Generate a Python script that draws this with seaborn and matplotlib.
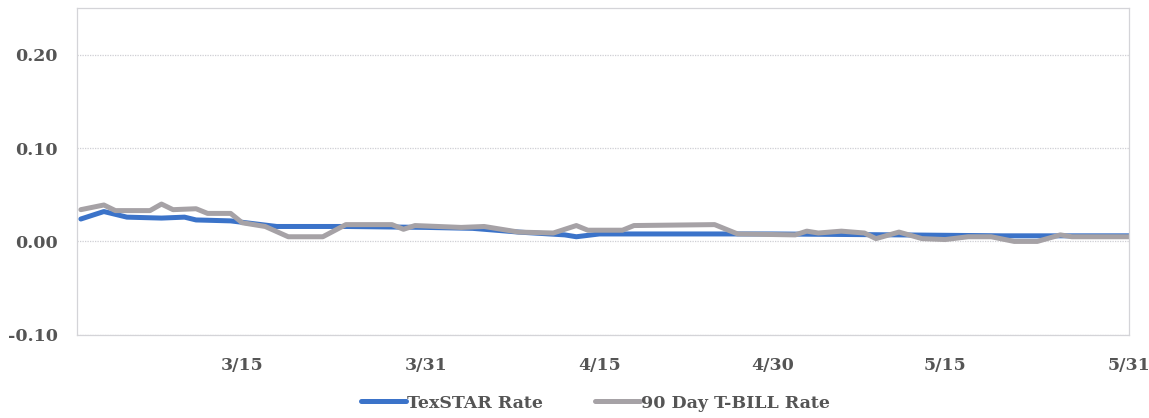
import pandas as pd
import matplotlib.pyplot as plt
import seaborn as sns

# --- data (daily rate, %) ---
texstar_dates = ["3/1", "3/3", "3/5", "3/8", "3/10", "3/11", "3/14", "3/16", "3/18", "3/24",
                 "3/31", "4/4", "4/8", "4/12", "4/13", "4/15", "4/30", "5/11", "5/20", "5/31"]
texstar_rate = [0.024, 0.032, 0.026, 0.025, 0.026, 0.023, 0.022, 0.019, 0.016, 0.016,
                0.015, 0.014, 0.010, 0.007, 0.005, 0.008, 0.008, 0.007, 0.006, 0.006]

tbill_dates = ["3/1", "3/3", "3/4", "3/7", "3/8", "3/9", "3/11", "3/12", "3/14", "3/15",
               "3/17", "3/19", "3/22", "3/24", "3/28", "3/29", "3/30", "4/3", "4/5", "4/8",
               "4/11", "4/13", "4/14", "4/17", "4/18", "4/25", "4/27", "5/2", "5/3", "5/4",
               "5/6", "5/8", "5/9", "5/11", "5/13", "5/15", "5/17", "5/19", "5/21", "5/23",
               "5/25", "5/26", "5/31"]
tbill_rate = [0.034, 0.039, 0.033, 0.033, 0.040, 0.034, 0.035, 0.030, 0.030, 0.020,
              0.016, 0.005, 0.005, 0.018, 0.018, 0.013, 0.017, 0.015, 0.016, 0.010,
              0.009, 0.017, 0.012, 0.012, 0.017, 0.018, 0.008, 0.007, 0.011, 0.009,
              0.011, 0.009, 0.003, 0.010, 0.003, 0.002, 0.005, 0.005, 0.000, 0.000,
              0.007, 0.005, 0.005]

tick_dates = ["3/15", "3/31", "4/15", "4/30", "5/15", "5/31"]
y_ticks = [-0.10, 0.00, 0.10, 0.20]
YEAR = 2014


def to_dates(labels):
    return pd.to_datetime([f"{YEAR}/{s}" for s in labels])


texstar = pd.DataFrame({"Date": to_dates(texstar_dates), "Rate": texstar_rate})
tbill = pd.DataFrame({"Date": to_dates(tbill_dates), "Rate": tbill_rate})

sns.set_style("white")
plt.rcParams["font.family"] = ["DejaVu Serif"]
text_color = "#555555"

fig = plt.figure(figsize=(11.49, 4.18), dpi=100)
ax = fig.add_axes([0.067, 0.199, 0.916, 0.782])

sns.lineplot(data=texstar, x="Date", y="Rate", ax=ax, color="#3b73c9",
             linewidth=3.6, label="TexSTAR Rate")
sns.lineplot(data=tbill, x="Date", y="Rate", ax=ax, color="#a6a2a6",
             linewidth=3.6, label="90 Day T-BILL Rate")

ax.set_ylim(-0.10, 0.25)
ax.set_yticks(y_ticks)
ax.set_yticklabels([f"{v:.2f}" for v in y_ticks], fontsize=12.5, fontweight="bold", color=text_color)

ax.set_xlim(pd.Timestamp(f"{YEAR}-03-01") - pd.Timedelta(hours=8), pd.Timestamp(f"{YEAR}-05-31"))
ax.set_xticks(to_dates(tick_dates))
ax.set_xticklabels(tick_dates, fontsize=12.5, fontweight="bold", color=text_color)
ax.tick_params(axis="x", length=0, pad=16)
ax.tick_params(axis="y", length=0, pad=14)

ax.set_xlabel("")
ax.set_ylabel("")
ax.grid(axis="y", color="#cfcfd4", linestyle=(0, (1, 1)), linewidth=0.9)
ax.set_axisbelow(True)
for spine in ax.spines.values():
    spine.set_color("#d4d4d8")
    spine.set_linewidth(0.9)

ax.legend_.remove()
handles, labels = ax.get_legend_handles_labels()
fig.legend(handles, labels, loc="lower center", bbox_to_anchor=(0.518, -0.022), ncol=2,
           frameon=False, handlelength=2.6, handletextpad=0.05, columnspacing=3.0,
           prop={"size": 12.5, "weight": "bold"}, labelcolor=text_color)

plt.savefig("out.png", dpi=100)
plt.close()
